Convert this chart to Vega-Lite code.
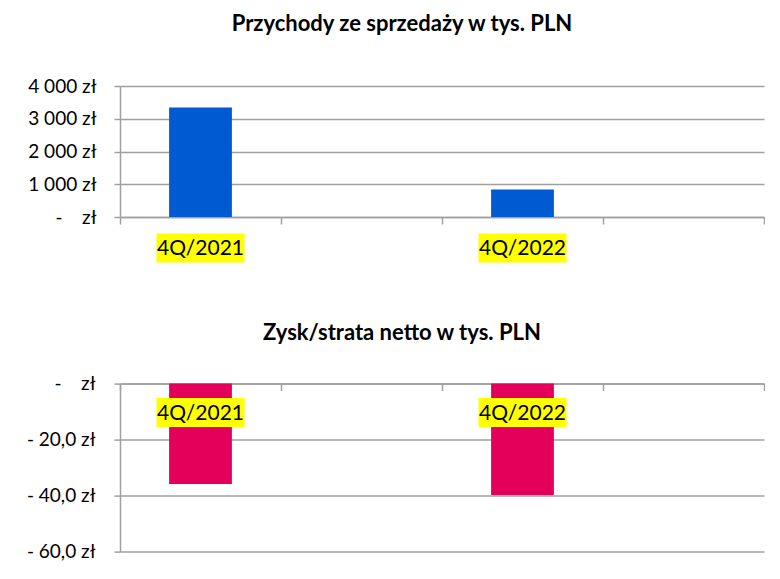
{
  "$schema": "https://vega.github.io/schema/vega-lite/v6.json",
  "background": "white",
  "padding": {"left": 10, "top": 13, "right": 0, "bottom": 0},
  "config": {
    "font": "Lato",
    "view": {"stroke": null},
    "axis": {"labelFont": "Lato", "labelColor": "#000000", "labelFontSize": 19, "domainColor": "#a0a0a0", "tickColor": "#a0a0a0", "gridColor": "#a0a0a0", "domainWidth": 1.5, "tickWidth": 1.5, "gridWidth": 1.5},
    "title": {"font": "Lato", "fontSize": 22, "fontWeight": "bold", "color": "#000000", "anchor": "middle"}
  },
  "spacing": 58.6,
  "vconcat": [
    {
      "title": {"text": "Przychody ze sprzedaży w tys. PLN", "dx": -40, "offset": 40.7},
      "width": 644,
      "height": 131,
      "data": {"values": [
        {"okres": "4Q/2021", "przychody": 3340},
        {"okres": "4Q/2022", "przychody": 837}
      ]},
      "resolve": {"axis": {"y": "independent"}},
      "encoding": {
        "x": {"field": "okres", "type": "nominal", "title": null,
          "scale": {"domain": ["4Q/2021", " ", "4Q/2022", "  "], "paddingInner": 0, "paddingOuter": 0},
          "axis": {"labels": false, "tickBand": "extent", "tickSize": 7, "grid": false, "domain": true}}
      },
      "layer": [
        {
          "mark": {"type": "bar", "color": "#005BD3", "width": {"band": 0.39}},
          "encoding": {
            "y": {"field": "przychody", "type": "quantitative", "title": null,
              "scale": {"domain": [0, 4000], "nice": false},
              "axis": {"values": [0, 1000, 2000, 3000, 4000], "labelOverlap": false, "labelFont": "Lato", "labelFontSize": 19, "labelColor": "#000000", "tickSize": 6, "labelPadding": 18, "minExtent": 110, "maxExtent": 110, "grid": true,
                "labelExpr": "datum.value == 0 ? '-\u00a0\u00a0\u00a0\u00a0zł' : replace(format(datum.value, ',.0f'), ',', '\u00a0') + '\u00a0zł'"}}
          }
        },
        {
          "mark": {"type": "point", "shape": "M-1,-0.3295H1V0.3295H-1Z", "size": 7744, "filled": true, "color": "#FFFF00", "opacity": 1, "yOffset": 31, "clip": false},
          "encoding": {"y": {"datum": 0, "type": "quantitative", "axis": null}}
        },
        {
          "mark": {"type": "text", "fontSize": 21, "color": "#000000", "baseline": "middle", "align": "center", "yOffset": 32, "clip": false},
          "encoding": {"y": {"datum": 0, "type": "quantitative", "axis": null}, "text": {"field": "okres"}}
        }
      ]
    },
    {
      "title": {"text": "Zysk/strata netto w tys. PLN", "dx": -40, "offset": 30},
      "width": 644,
      "height": 168,
      "data": {"values": [
        {"okres": "4Q/2021", "wynik": -35.9},
        {"okres": "4Q/2022", "wynik": -39.8}
      ]},
      "resolve": {"axis": {"y": "independent"}},
      "encoding": {
        "x": {"field": "okres", "type": "nominal", "title": null,
          "scale": {"domain": ["4Q/2021", " ", "4Q/2022", "  "], "paddingInner": 0, "paddingOuter": 0},
          "axis": {"orient": "top", "labels": false, "tickBand": "extent", "tickSize": -7, "grid": false, "domain": true}}
      },
      "layer": [
        {
          "mark": {"type": "bar", "color": "#E4005A", "width": {"band": 0.39}},
          "encoding": {
            "y": {"field": "wynik", "type": "quantitative", "title": null,
              "scale": {"domain": [-60, 0], "nice": false},
              "axis": {"values": [-60, -40, -20, 0], "labelOverlap": false, "labelFont": "Lato", "labelFontSize": 19, "labelColor": "#000000", "tickSize": 6, "labelPadding": 19, "minExtent": 110, "maxExtent": 110, "grid": true,
                "labelExpr": "datum.value == 0 ? '-\u00a0\u00a0\u00a0\u00a0zł' : '-\u00a0' + replace(format(-datum.value, '.1f'), '.', ',') + '\u00a0zł'"}}
          }
        },
        {
          "mark": {"type": "point", "shape": "M-1,-0.3295H1V0.3295H-1Z", "size": 7744, "filled": true, "color": "#FFFF00", "opacity": 1, "yOffset": 29, "clip": false},
          "encoding": {"y": {"datum": 0, "type": "quantitative", "axis": null}}
        },
        {
          "mark": {"type": "text", "fontSize": 21, "color": "#000000", "baseline": "middle", "align": "center", "yOffset": 30, "clip": false},
          "encoding": {"y": {"datum": 0, "type": "quantitative", "axis": null}, "text": {"field": "okres"}}
        }
      ]
    }
  ]
}
